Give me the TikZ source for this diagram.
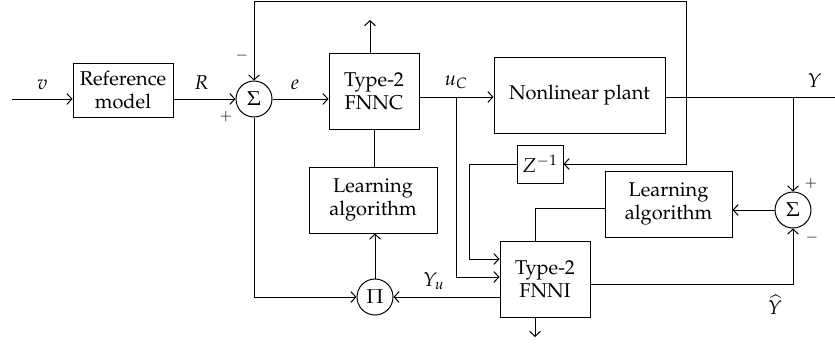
\documentclass[tikz,border=0pt]{standalone}
\usepackage[T1]{fontenc}
\usepackage{amsmath}
\usepackage{mathpazo}
\usepackage{tikz}
\usetikzlibrary{arrows.meta}

\tikzset{
  block/.style={draw, align=center, inner sep=0pt},
  sumnode/.style={draw, circle, inner sep=0pt, minimum size=21.6pt},
  sgn/.style={font=\small},
}

\begin{document}
\begin{tikzpicture}[x=0.6pt,y=-0.6pt,line width=0.6pt,font=\large,
    >={Straight Barb[length=3pt,width=6.5pt]}]
    \useasboundingbox (0,0) rectangle (835,345);

    % blocks
    \node[block, minimum width=60pt, minimum height=32.4pt] (refm) at (123,90) {Reference\\model};
    \node[block, minimum width=54pt, minimum height=45.6pt] (fnnc) at (374,91) {Type-2\\FNNC};
    \node[block, minimum width=102.6pt, minimum height=45.6pt] (plant) at (579.5,95) {Nonlinear plant};
    \node[block, minimum width=27.6pt, minimum height=22.8pt] (zinv) at (540,164) {$Z^{-1}$};
    \node[block, minimum width=76.8pt, minimum height=39.6pt] (la1) at (373,200) {Learning\\algorithm};
    \node[block, minimum width=76.2pt, minimum height=39.6pt] (la2) at (668.5,204) {Learning\\algorithm};
    \node[block, minimum width=54pt, minimum height=45.6pt] (fnni) at (545,279) {Type-2\\FNNI};
    \node[sumnode] (sum1) at (254,99) {$\Sigma$};
    \node[sumnode] (prod) at (375,297) {$\Pi$};
    \node[sumnode] (sum2) at (793,210) {$\Sigma$};

    % helper points
    \coordinate (vin) at (12,99);
    \coordinate (uc) at (456,97);
    \coordinate (ytap) at (686,97);
    \coordinate (ytap2) at (793,97);
    \coordinate (yout) at (835,97);
    \coordinate (top) at (686,1);
    \coordinate (zturn) at (469,164);
    \coordinate (fnx) at (535,208);
    \coordinate (fnout) at (535,337);
    \coordinate (fncup) at (370,20);

    % main path
    \draw [->] (vin) -- (refm.west |- vin) node[pos=0.5,above=2pt] {$v$};
    \draw [->] (refm.east |- sum1) -- (sum1.west) node[pos=0.45,above=2pt] {$R$};
    \draw [->] (sum1.east) -- (fnnc.west |- sum1) node[pos=0.4,above=2pt] {$e$};
    \draw (fnnc.east |- uc) -- (uc) node[above=1pt] {$u_C$};
    \draw [->] (uc) -- (plant.west |- uc);
    \draw (plant.east |- uc) -- (yout) node[pos=0.88,above=2pt] {$Y$};
    \draw [->] (fnnc.north -| fncup) -- (fncup);

    % feedback to summing junction and delay
    \draw [->] (ytap) -- (top) -| (sum1.north);
    \draw [->] (ytap) |- (zinv.east);
    \node[sgn] at (242,56) {$-$};
    \node[sgn] at (226,117) {$+$};

    % identifier inputs
    \draw [->] (zinv.west) -- (zturn) |- (fnni.west |- 0,259);
    \draw [->] (uc) |- (fnni.west |- 0,277);

    % controller learning loop
    \draw (fnnc.south) -- (fnnc.south |- la1.north);
    \draw [->] (sum1.south) |- (prod.west);
    \draw [->] (fnni.west |- prod) -- (prod.east) node[pos=0.62,above=1pt] {$Y_u$};
    \draw [->] (prod.north) -- (prod.north |- la1.south);
    \draw [->] (fnni.south -| fnout) -- (fnout);

    % identifier learning loop
    \draw [->] (ytap2) -- (sum2.north);
    \draw [->] (sum2.west) -- (la2.east |- sum2);
    \draw (la2.west |- fnx) -- (fnx) -- (fnni.north -| fnx);
    \draw [->] (fnni.east |- 0,284) -| (sum2.south);
    \node at (775,305) {$\widehat{Y}$};
    \node[sgn] at (811,184) {$+$};
    \node[sgn] at (812,238) {$-$};
\end{tikzpicture}
\end{document}
